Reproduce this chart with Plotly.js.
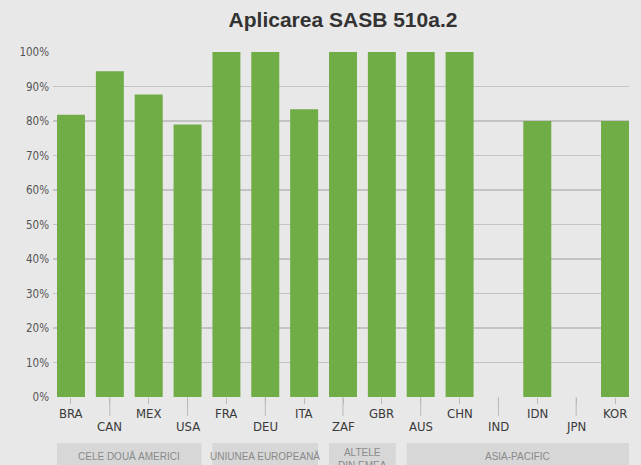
<!DOCTYPE html>
<html>
<head>
<meta charset="utf-8">
<script src="https://cdn.plot.ly/plotly-3.0.1.min.js"></script>
<style>html,body{margin:0;padding:0;background:#e8e8e8;}#chart{width:641px;height:465px;}</style>
</head>
<body>
<div id="chart"></div>
<script>
const categories = ['BRA','CAN','MEX','USA','FRA','DEU','ITA','ZAF','GBR','AUS','CHN','IND','IDN','JPN','KOR'];
const values = [81.8, 94.4, 87.7, 79.0, 100, 100, 83.4, 100, 100, 100, 100, 0, 80, 0, 80];
const yTicks = [0,10,20,30,40,50,60,70,80,90,100];
const groupLabels = ['CELE DOUĂ AMERICI','UNIUNEA EUROPEANĂ','ALTELE<br>DIN EMEA','ASIA-PACIFIC'];
const groupStart = ['BRA','FRA','ZAF','AUS'];
const groupEnd = ['USA','ITA','GBR','KOR'];

const plotH = 345;
const px = p => p / plotH; // pixels -> paper units (vertical)
const narrow = '"Liberation Sans Narrow", "DejaVu Sans Condensed", sans-serif';

const shapes = [];
const annotations = [];
categories.forEach((c, i) => {
  const odd = i % 2 === 1;
  if (odd) {
    shapes.push({type:'line', xref:'x', yref:'paper', x0:c, x1:c, y0:0, y1:-px(19),
      line:{color:'#b9b9b9', width:1}});
  }
  annotations.push({xref:'x', yref:'paper', x:c, y: odd ? -px(29.5) : -px(16),
    text:c, showarrow:false, yanchor:'middle', xanchor:'center',
    font:{family:narrow, size:13, color:'#3a3a3a'}});
});
groupLabels.forEach((g, k) => {
  const a = categories.indexOf(groupStart[k]);
  const b = categories.indexOf(groupEnd[k]);
  shapes.push({type:'rect', xref:'x', yref:'paper', x0:a-0.36, x1:b+0.36,
    y0:-px(46), y1:-px(75), fillcolor:'#d7d7d7', line:{width:0}, layer:'below'});
  const two = g.indexOf('<br>') >= 0;
  annotations.push({xref:'x', yref:'paper', x:(a+b)/2, y: two ? -px(48) : -px(59),
    yanchor: two ? 'top' : 'middle', text:g, showarrow:false, xanchor:'center',
    font:{family:'"Liberation Sans", sans-serif', size:10, color:'#8a8a8a'}});
});

const data = [{
  type:'bar', x:categories, y:values,
  marker:{color:'#70ad47', line:{width:0}},
  hoverinfo:'x+y'
}];

const layout = {
  width:641, height:465,
  paper_bgcolor:'#e8e8e8', plot_bgcolor:'#e8e8e8',
  margin:{l:53, r:12, t:52, b:68},
  bargap:0.28,
  showlegend:false,
  title:{text:'<b>Aplicarea SASB 510a.2</b>', x:343/641, xanchor:'center', xref:'container',
    y:1-20/465, yanchor:'middle', yref:'container',
    font:{family:'"Liberation Sans", Arial, sans-serif', size:21, color:'#333333'}},
  xaxis:{type:'category', categoryorder:'array', categoryarray:categories,
    range:[-0.463, 14.36], showgrid:false, zeroline:false, showline:false,
    ticks:'outside', ticklen:6, tickcolor:'#b9b9b9', tickwidth:1, showticklabels:false},
  yaxis:{range:[0,100], tickvals:yTicks, ticktext:yTicks.map(v => v + '%'),
    showgrid:true, gridcolor:'#c3c3c3', gridwidth:1.3, zeroline:false, showline:false,
    ticks:'', ticklabelstandoff:3,
    tickfont:{family:narrow, size:11.5, color:'#555555'}},
  shapes:shapes,
  annotations:annotations
};

Plotly.newPlot('chart', data, layout, {displayModeBar:false, staticPlot:true});
</script>
</body>
</html>
